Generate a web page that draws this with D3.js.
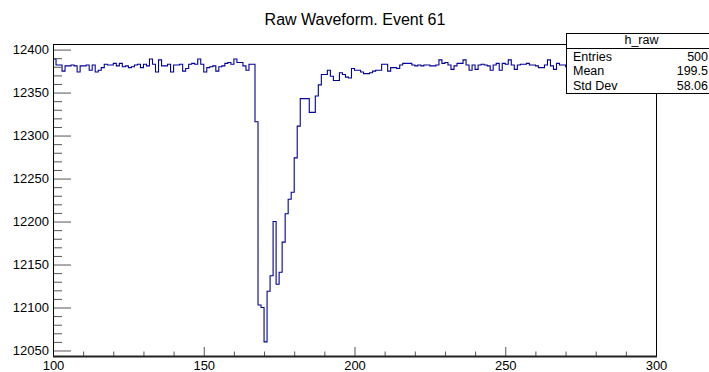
<!DOCTYPE html>
<meta charset="utf-8">
<title>Raw Waveform. Event 61</title>
<style>
body { margin: 0; background: #fff; }
svg { display: block; }
.axis text { font: 13px "Liberation Sans", Arial, sans-serif; fill: #000; }
.axis line { stroke: #555; }
.title { font: 16px "Liberation Sans", Arial, sans-serif; text-anchor: middle; }
.stats text { font: 12.5px "Liberation Sans", Arial, sans-serif; }
</style>
<svg width="709" height="372"></svg>
<script src="https://d3js.org/d3.v7.min.js"></script>
<script>

// bin low edges (width 1) shown on the plot, 100 .. 299
var firstBin = 100;

// ADC counts, one per bin
var counts = [
  12389, 12382, 12382, 12375, 12381, 12381, 12382, 12381, 12374, 12381,
  12381, 12382, 12376, 12382, 12374, 12376, 12379, 12383, 12382, 12382,
  12384, 12381, 12384, 12380, 12381, 12379, 12380, 12382, 12383, 12379,
  12383, 12381, 12389, 12383, 12374, 12388, 12381, 12381, 12383, 12374,
  12382, 12382, 12383, 12375, 12378, 12383, 12384, 12383, 12389, 12383,
  12374, 12379, 12380, 12381, 12375, 12380, 12381, 12384, 12385, 12383,
  12389, 12385, 12385, 12381, 12376, 12383, 12383,
  // the pulse
  12316, 12103, 12100, 12060, 12119, 12137, 12200, 12127, 12141, 12176,
  12209, 12226, 12234, 12274, 12311, 12343, 12343, 12343, 12327, 12327,
  12346, 12359, 12371, 12371, 12376, 12369, 12364, 12364,
  // back on the baseline
  12373, 12371, 12368, 12367, 12378, 12376, 12376, 12374, 12372, 12372,
  12373, 12375, 12376, 12376, 12383, 12383, 12375, 12379, 12379, 12378,
  12382, 12384, 12384, 12384, 12382, 12381, 12382, 12381, 12382, 12382,
  12381, 12381, 12382, 12388, 12384, 12385, 12382, 12377, 12381, 12384,
  12384, 12388, 12382, 12376, 12382, 12377, 12382, 12383, 12382, 12381,
  12376, 12382, 12384, 12376, 12384, 12383, 12388, 12382, 12377, 12382,
  12383, 12383, 12384, 12382, 12382, 12381, 12379, 12379, 12382, 12388,
  12381, 12377, 12384, 12382, 12382, 12380, 12384, 12379, 12382, 12385,
  12381, 12377, 12383, 12382, 12386, 12380, 12378, 12383, 12381, 12384,
  12382, 12376, 12382, 12383, 12387, 12381, 12379, 12382, 12384, 12381,
  12377, 12383, 12382, 12385, 12381
];

var xMajor = [100, 150, 200, 250, 300];
var yMajor = [12050, 12100, 12150, 12200, 12250, 12300, 12350, 12400];

var statNames = ["Entries", "Mean", "Std Dev"];
var statValues = ["500", "199.5", "58.06"];

var svg = d3.select("svg"),
    frame = {left: 53, right: 656, top: 44, bottom: 356};

var x = d3.scaleLinear()
    .domain([100, 300])
    .range([frame.left, frame.right]);

var y = d3.scaleLinear()
    .domain([12043.6, 12406.5])
    .range([frame.bottom, frame.top]);

// title
svg.append("text")
    .attr("class", "title")
    .attr("x", 355)
    .attr("y", 25)
    .text("Raw Waveform. Event 61");

svg.append("clipPath")
    .attr("id", "clip")
  .append("rect")
    .attr("x", frame.left)
    .attr("y", frame.top)
    .attr("width", frame.right - frame.left)
    .attr("height", frame.bottom - frame.top);

// histogram as a step line
var pts = counts.map(function(v, i) { return [firstBin + i, v]; });
pts.push([firstBin + counts.length, counts[counts.length - 1]]);

var line = d3.line()
    .x(function(d) { return x(d[0]); })
    .y(function(d) { return y(d[1]); })
    .curve(d3.curveStepAfter);

svg.append("path")
    .datum(pts)
    .attr("clip-path", "url(#clip)")
    .attr("fill", "none")
    .attr("stroke", "#00009a")
    .attr("stroke-width", 1.1)
    .attr("d", line);

// axes: ticks point into the frame
var xMinor = d3.range(100, 301, 10).filter(function(v) { return xMajor.indexOf(v) < 0; });
var yMinor = d3.range(12050, 12401, 10).filter(function(v) { return yMajor.indexOf(v) < 0; });

svg.append("g")
    .attr("class", "axis")
    .attr("transform", "translate(0," + frame.bottom + ")")
    .call(d3.axisBottom(x).tickValues(xMajor).tickSize(-9).tickSizeOuter(0).tickPadding(5))
    .call(function(g) { g.select(".domain").remove(); });

svg.append("g")
    .attr("class", "axis")
    .attr("transform", "translate(0," + frame.bottom + ")")
    .call(d3.axisBottom(x).tickValues(xMinor).tickSize(-4.5).tickSizeOuter(0).tickFormat(""))
    .call(function(g) { g.select(".domain").remove(); });

svg.append("g")
    .attr("class", "axis")
    .attr("transform", "translate(" + frame.left + ",0)")
    .call(d3.axisLeft(y).tickValues(yMajor).tickSize(-18).tickSizeOuter(0).tickPadding(4).tickFormat(d3.format("d")))
    .call(function(g) { g.select(".domain").remove(); });

svg.append("g")
    .attr("class", "axis")
    .attr("transform", "translate(" + frame.left + ",0)")
    .call(d3.axisLeft(y).tickValues(yMinor).tickSize(-9).tickSizeOuter(0).tickFormat(""))
    .call(function(g) { g.select(".domain").remove(); });

// frame
svg.append("rect")
    .attr("x", frame.left + 0.5)
    .attr("y", frame.top + 0.5)
    .attr("width", frame.right - frame.left)
    .attr("height", frame.bottom - frame.top)
    .attr("fill", "none")
    .attr("stroke", "#000");

svg.append("line")
    .attr("x1", frame.left).attr("x2", frame.right + 1)
    .attr("y1", frame.bottom + 0.5).attr("y2", frame.bottom + 0.5)
    .attr("stroke", "#222")
    .attr("stroke-width", 2);

// stats box
var stats = svg.append("g").attr("class", "stats");

stats.append("rect")
    .attr("x", 566.5)
    .attr("y", 33.5)
    .attr("width", 150)
    .attr("height", 60)
    .attr("fill", "#fff")
    .attr("stroke", "#000");

stats.append("line")
    .attr("x1", 566.5).attr("x2", 716.5)
    .attr("y1", 48.5).attr("y2", 48.5)
    .attr("stroke", "#000");

stats.append("text")
    .attr("x", 641.5)
    .attr("y", 44)
    .attr("text-anchor", "middle")
    .text("h_raw");

stats.selectAll(".name")
    .data(statNames)
    .enter().append("text")
      .attr("class", "name")
      .attr("x", 573)
      .attr("y", function(d, i) { return 60.5 + i * 14.5; })
      .text(function(d) { return d; });

stats.selectAll(".val")
    .data(statValues)
    .enter().append("text")
      .attr("class", "val")
      .attr("x", 708)
      .attr("y", function(d, i) { return 60.5 + i * 14.5; })
      .attr("text-anchor", "end")
      .text(function(d) { return d; });

</script>
